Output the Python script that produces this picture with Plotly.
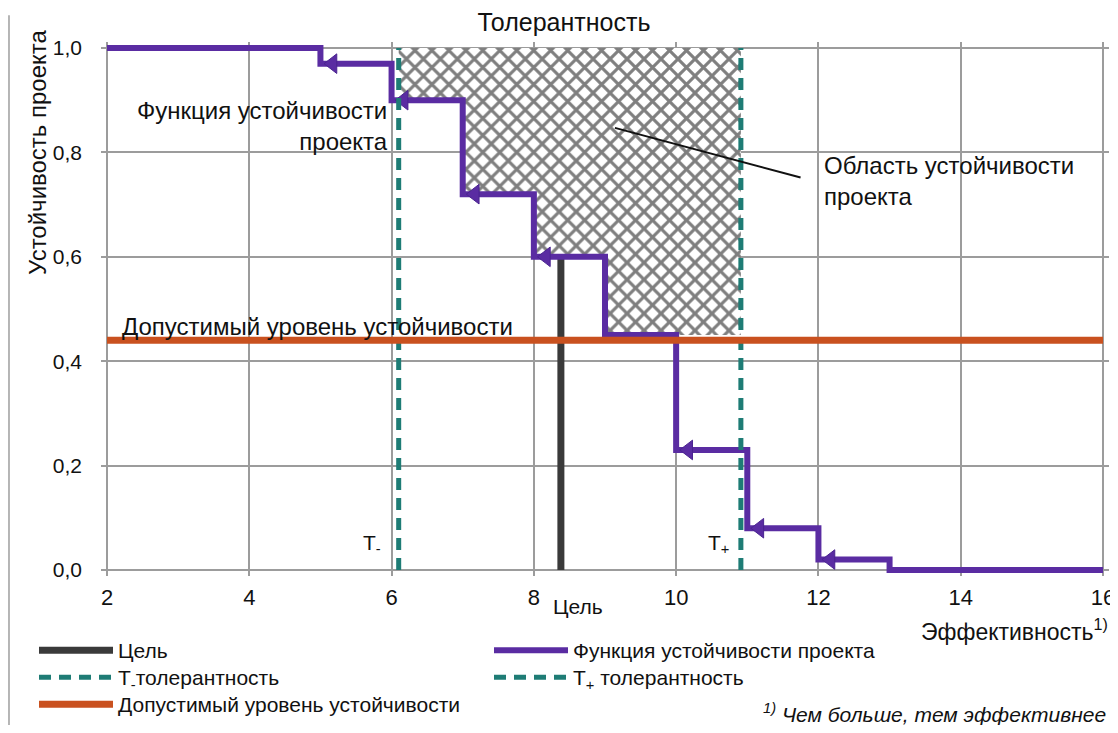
import plotly.graph_objects as go

# ---- data ----
step_x = [2, 5, 6, 7, 8, 9, 10, 11, 12, 13, 16]
step_y = [1.0, 0.97, 0.90, 0.72, 0.60, 0.45, 0.23, 0.08, 0.02, 0.0, 0.0]
arrow_at = [5, 6, 7, 8, 10, 11, 12]

goal_x = 8.38
goal_top = 0.60
t_minus = 6.10
t_plus = 10.91
accept_level = 0.44

region_x = [6.10, 7, 7, 8, 8, 9, 9, 10.91]
region_bottom = [0.90, 0.90, 0.72, 0.72, 0.60, 0.60, 0.45, 0.45]
region_top = 1.0

x_ticks = [2, 4, 6, 8, 10, 12, 14, 16]
y_ticks = [0.0, 0.2, 0.4, 0.6, 0.8, 1.0]

PURPLE = "#5a2ca2"
ORANGE = "#c9511f"
TEAL = "#1e7c75"
GOAL = "#3a3a3a"
GRID = "#9c9c9c"
FONT = "Liberation Sans, Arial, sans-serif"

W, H = 1110, 717

fig = go.Figure()

# hatched robustness area
poly_x = region_x + region_x[::-1]
poly_y = region_bottom + [region_top] * len(region_x)
fig.add_trace(go.Scatter(
    x=poly_x, y=poly_y, mode="lines", fill="toself",
    line=dict(width=0, color="rgba(0,0,0,0)"),
    fillcolor="white",
    fillpattern=dict(shape="x", fgcolor="#000000", bgcolor="white", size=12, solidity=0.45),
    showlegend=False, hoverinfo="skip"))

# goal
fig.add_trace(go.Scatter(
    x=[goal_x, goal_x], y=[0, goal_top], mode="lines",
    line=dict(color=GOAL, width=7), name="Цель", legend="legend"))

# robustness function (step)
fig.add_trace(go.Scatter(
    x=step_x, y=step_y, mode="lines", line=dict(color=PURPLE, width=6, shape="hv"),
    name="Функция устойчивости проекта", legend="legend"))

# arrow heads on the step function
lookup = dict(zip(step_x, step_y))
fig.add_trace(go.Scatter(
    x=[a + 0.17 for a in arrow_at], y=[lookup[a] for a in arrow_at], mode="markers",
    marker=dict(symbol="triangle-left", size=17, color=PURPLE,
                line=dict(color="#4a2490", width=1)),
    showlegend=False, hoverinfo="skip"))

# tolerances
fig.add_trace(go.Scatter(
    x=[t_minus, t_minus], y=[0, 1], mode="lines",
    line=dict(color=TEAL, width=5, dash="12px,8px"),
    name="T<sub>-</sub>толерантность", legend="legend2"))
fig.add_trace(go.Scatter(
    x=[t_plus, t_plus], y=[0, 1], mode="lines",
    line=dict(color=TEAL, width=5, dash="12px,8px"),
    name="T<sub>+</sub> толерантность", legend="legend2"))

# acceptable level
fig.add_trace(go.Scatter(
    x=[x_ticks[0], x_ticks[-1]], y=[accept_level, accept_level], mode="lines",
    line=dict(color=ORANGE, width=7),
    name="Допустимый уровень устойчивости", legend="legend3"))

pad_x = 6 / 71.14
pad_y = 6 / 522
fig.update_xaxes(
    range=[x_ticks[0] - pad_x, x_ticks[-1] + pad_x], tickvals=x_ticks,
    showgrid=True, gridcolor=GRID, gridwidth=2, zeroline=False, showline=False,
    tickfont=dict(size=22, color="#111"), ticks="", ticklabelstandoff=6, automargin=False)
fig.update_yaxes(
    range=[-pad_y, 1 + pad_y], tickvals=y_ticks, tickformat=".1f",
    showgrid=True, gridcolor=GRID, gridwidth=2, zeroline=False, showline=False,
    tickfont=dict(size=21, color="#111"), ticks="", ticklabelstandoff=18, automargin=False)

ann = []
ann.append(dict(x=5.98, y=0.85, xref="x", yref="y", text="Функция устойчивости<br>проекта",
                showarrow=False, xanchor="right", align="right", font=dict(size=24)))
ann.append(dict(x=12.05, y=0.745, xref="x", yref="y", text="Область устойчивости<br>проекта",
                showarrow=False, xanchor="left", align="left", font=dict(size=24)))
ann.append(dict(x=2.18, y=0.467, xref="x", yref="y", text="Допустимый уровень устойчивости",
                showarrow=False, xanchor="left", font=dict(size=24)))
ann.append(dict(x=5.73, y=0.05, xref="x", yref="y", text="T<sub>-</sub>",
                showarrow=False, font=dict(size=21)))
ann.append(dict(x=10.6, y=0.05, xref="x", yref="y", text="T<sub>+</sub>",
                showarrow=False, font=dict(size=21)))
ann.append(dict(x=8.62, y=-0.058, xref="x", yref="paper", text="Цель",
                showarrow=False, yanchor="middle", font=dict(size=21)))
ann.append(dict(x=1.001, y=-0.101, xref="paper", yref="paper", text="Эффективность<sup>1)</sup>",
                showarrow=False, xanchor="right", yanchor="middle", font=dict(size=23)))
ann.append(dict(x=0.999, y=-0.2566, xref="paper", yref="paper",
                text="<i><sup>1)</sup> Чем больше, тем эффективнее</i>",
                showarrow=False, xanchor="right", yanchor="middle", font=dict(size=21)))
ann.append(dict(x=-0.0635, y=0.794, xref="paper", yref="paper", text="Устойчивость проекта",
                showarrow=False, textangle=-90, xanchor="center", yanchor="middle",
                font=dict(size=24)))
# leader line for the region label
ann.append(dict(x=9.14, y=0.847, ax=11.77, ay=0.751, xref="x", yref="y", axref="x", ayref="y",
                text="", showarrow=True, arrowhead=0, arrowwidth=2, arrowcolor="#111"))

# legend rows (figure-pixel positions converted to container fractions)
row_top = [622, 649, 676]
leg_x = 26 / W
leg_common = dict(orientation="h", xref="container", yref="container", x=leg_x,
                  xanchor="left", yanchor="top", entrywidth=366, entrywidthmode="pixels",
                  itemwidth=74, font=dict(size=21), bgcolor="rgba(0,0,0,0)")

fig.update_layout(
    width=W, height=H,
    margin=dict(l=93, r=W - 1101, t=34, b=H - 568, autoexpand=False),
    paper_bgcolor="white", plot_bgcolor="white",
    separators=", ",
    font=dict(family=FONT, color="#111"),
    title=dict(text="Толерантность", x=556 / W, xanchor="center", y=1 - 14 / H,
               yanchor="middle", font=dict(size=25, color="#111")),
    showlegend=True,
    legend=dict(leg_common, y=1 - row_top[0] / H),
    legend2=dict(leg_common, y=1 - row_top[1] / H),
    legend3=dict(leg_common, y=1 - row_top[2] / H),
    annotations=ann,
    shapes=[dict(type="line", xref="paper", yref="paper", x0=-0.0913, x1=-0.0913,
                 y0=1.05, y1=-0.28, line=dict(color="#b5b5b5", width=2))],
)

fig.write_html("out.html")
